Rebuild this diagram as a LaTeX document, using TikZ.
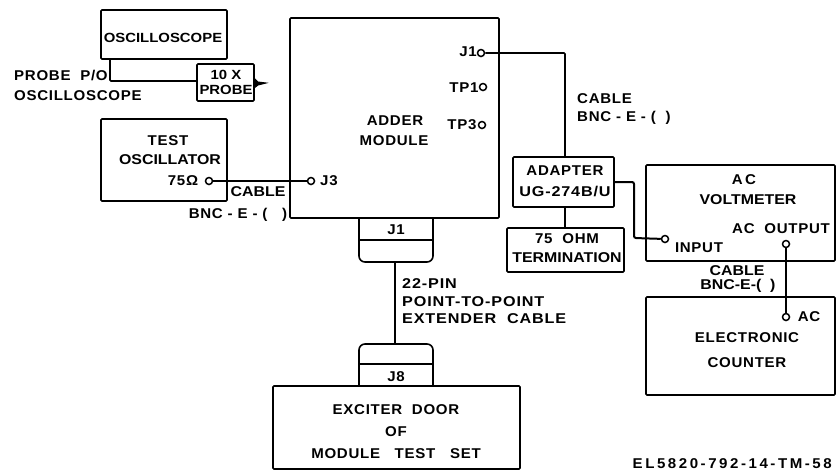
\documentclass[tikz,border=0pt]{standalone}
\usepackage{fontspec}
\setmainfont{Liberation Sans}[LetterSpace=5,FakeStretch=1.06]
\newfontfamily\widefont{Liberation Sans}[LetterSpace=18,FakeStretch=1.06]
\newfontfamily\tightfont{Liberation Sans}[LetterSpace=0,FakeStretch=1.12]
\newfontfamily\stretchfont{Liberation Sans}[LetterSpace=6,FakeStretch=1.14]
\begin{document}
\begin{tikzpicture}[x=1pt,y=-1pt,
  box/.style={draw,line width=1.6pt,rounded corners=1pt,inner sep=0pt},
  lbl/.style={font=\fontsize{14.2}{16}\selectfont\bfseries,inner sep=0pt,align=center},
  lblw/.style={font=\fontsize{14.2}{16}\selectfont\bfseries\widefont,inner sep=0pt,align=center},
  lblt/.style={font=\fontsize{14.2}{16}\selectfont\bfseries\tightfont,inner sep=0pt,align=center},
  lblf/.style={font=\fontsize{13.3}{16}\selectfont\bfseries\tightfont,inner sep=0pt,align=center},
  lbls/.style={font=\fontsize{14.2}{16}\selectfont\bfseries\stretchfont,inner sep=0pt,align=center},
  lft/.style={lbl,anchor=west},
  jack/.style={circle,draw,line width=1.5pt,inner sep=0pt,minimum size=7pt,fill=white},
  wire/.style={line width=1.6pt},
  tab/.style={line width=1.6pt,rounded corners=6pt}]
\useasboundingbox (0,0) rectangle (836,472);
% boxes
\path[box] (101,10) rectangle (227,59);
\path[box] (197,64) rectangle (254,101);
\path[box] (101,119) rectangle (227,201);
\path[box] (290,18) rectangle (499,218);
\path[box] (513,157) rectangle (614,207);
\path[box] (507,228) rectangle (624,272);
\path[box] (646,165) rectangle (835,261);
\path[box] (646,297) rectangle (835,395);
\path[box] (273,386) rectangle (520,469);
\coordinate (scopeB) at (110,59);
\coordinate (probeL) at (197,81);
\coordinate (adderJ1T) at (395,262);
\coordinate (doorT) at (395,344);
\coordinate (adapT) at (565,157);
\coordinate (adapB) at (565,207);
\coordinate (termT) at (565,228);
\coordinate (adapR) at (614,182);
% connector tabs
\draw[tab] (359,218) -- (359,262) -- (433,262) -- (433,218);
\draw[wire] (359,240) -- (433,240);
\draw[tab] (359,386) -- (359,344) -- (433,344) -- (433,386);
\draw[wire] (359,364) -- (433,364);
% jacks
\node[jack] (jOsc) at (209,181) {};
\node[jack] (jJ3) at (311,181) {};
\node[jack] (jJ1) at (481,53) {};
\node[jack] (jTP1) at (483,87) {};
\node[jack] (jTP3) at (482,125) {};
\node[jack] (jIn) at (665,239) {};
\node[jack] (jOut) at (786,244) {};
\node[jack] (jAC) at (786,317) {};
% wires
\draw[wire,rounded corners=1pt] (scopeB) -- (110,81) -- (probeL);
\draw[line width=1pt,fill=black] (254,78) -- (258,82) -- (266,83) -- (258,85) -- (254,88) -- cycle;
\draw[line width=2pt] (jOsc) -- (jJ3);
\draw[wire,rounded corners=1pt] (jJ1) -- (565,53) -- (adapT);
\draw[wire] (adapB) -- (termT);
\draw[line width=2pt,rounded corners=2pt] (adapR) -- (634,182) -- (634,238) -- (jIn);
\draw[wire] (jOut) -- (jAC);
\draw[wire] (adderJ1T) -- (doorT);
% text
\node[lblf] (t1) at (163,38) {OSCILLOSCOPE};
\node[lft] (t2) at (14,75) {PROBE\ \ P/O};
\node[lft] (t3) at (14,96) {OSCILLOSCOPE};
\node[lblf] (t4) at (226,75) {10 X};
\node[lblf] (t5) at (226,90) {PROBE};
\node[lbl] (t6) at (168,141) {TEST};
\node[lblt] (t7) at (170,160) {OSCILLATOR};
\node[lbl] (t8) at (183,181) {75Ω};
\node[lblt] (t9) at (258,192) {CABLE};
\node[lbl] (t10) at (238,215) {BNC - E - ( \ \ )};
\node[lft] (t11) at (320,181) {J3};
\node[lbl] (t12) at (468,52) {J1};
\node[lbl] (t13) at (464,88) {TP1};
\node[lbl] (t14) at (462,125) {TP3};
\node[lbl] (t15) at (395,121) {ADDER};
\node[lbl] (t16) at (394,141) {MODULE};
\node[lft] (t17) at (577,99) {CABLE};
\node[lft] (t18) at (577,118) {BNC - E - ( \ )};
\node[lbl] (t19) at (565,171) {ADAPTER};
\node[lbls] (t20) at (565,191) {UG-274B/U};
\node[lbl] (t21) at (567,239) {75\ \ OHM};
\node[lblt] (t22) at (567,258) {TERMINATION};
\node[lbl] (t23) at (744,180) {A\,C};
\node[lblt] (t24) at (748,200) {VOLTMETER};
\node[lbl] (t25) at (781,229) {AC\ \ OUTPUT};
\node[lbl] (t26) at (699,248) {INPUT};
\node[lblt] (t27) at (737,271) {CABLE};
\node[lblt] (t28) at (738,286) {BNC-E-( \ )};
\node[lbl] (t29) at (809,317) {AC};
\node[lbl] (t30) at (747,338) {ELECTRONIC};
\node[lbl] (t31) at (747,363) {COUNTER};
\node[lbl] (t32) at (396,230) {J1};
\node[lbl] (t33) at (396,377) {J8};
\node[lbls,anchor=west] (t34) at (402,284) {22-PIN};
\node[lbls,anchor=west] (t35) at (402,302) {POINT-TO-POINT};
\node[lbls,anchor=west] (t36) at (402,319) {EXTENDER\ \ CABLE};
\node[lbl] (t37) at (396,410) {EXCITER\ \ DOOR};
\node[lbl] (t38) at (396,432) {OF};
\node[lbl] (t39) at (396,454) {MODULE\ \ \ TEST\ \ \ SET};
\node[lblw,anchor=east] (t40) at (832,464) {EL5820-792-14-TM-58};
\end{tikzpicture}
\end{document}
